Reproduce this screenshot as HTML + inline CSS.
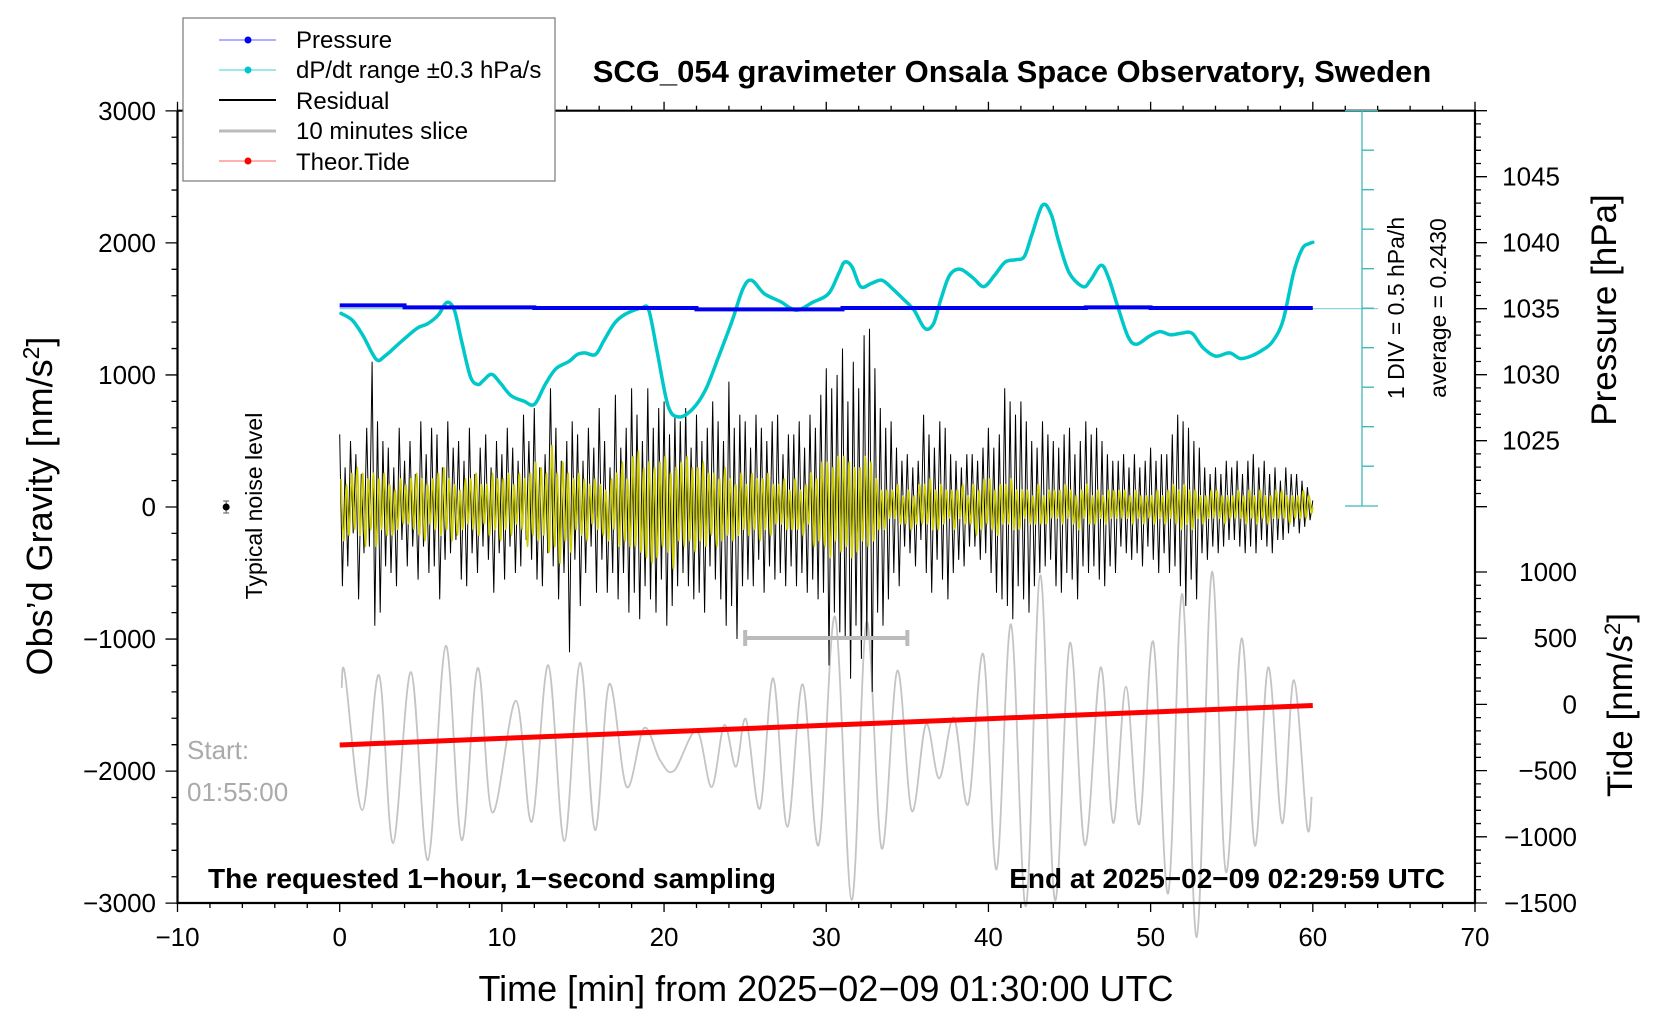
<!DOCTYPE html>
<html><head><meta charset="utf-8"><style>
html,body{margin:0;padding:0;background:#fff}
svg{display:block;font-family:"Liberation Sans",sans-serif}
</style></head><body>
<svg id="chart" width="1676" height="1020" viewBox="0 0 1676 1020" xmlns="http://www.w3.org/2000/svg">
<g id="marks"></g>
<g id="axes"></g>
</svg>
<script>
// ---------- data ----------
const xTicks = [-10,0,10,20,30,40,50,60,70];
const yTicks = [3000,2000,1000,0,-1000,-2000,-3000];
const pTicks = [1045,1040,1035,1030,1025];
const tideTicks = [1000,500,0,-500,-1000,-1500];
// pressure (hPa) step series
const pMin = [0,4,4,12,12,22,22,31,31,46,46,50,50,60];
const pVal = [1035.25,1035.25,1035.1,1035.1,1035.05,1035.05,1034.95,1034.95,1035.05,1035.05,1035.1,1035.1,1035.05,1035.05];
// dP/dt (hPa/h)
const dMin = [0.08,0.8,1.46,2.25,2.78,3.77,4.76,5.42,6.08,6.61,7.07,7.53,8.06,8.52,8.85,9.37,9.9,10.56,11.35,12.01,12.67,13.33,14.12,14.65,15.11,15.77,16.3,16.96,17.61,18.6,19.06,19.59,20.25,20.91,21.76,22.55,23.34,24.2,24.86,25.39,26.18,27.17,28.16,29.15,30.14,30.8,31.13,31.59,32.12,32.78,33.44,34.1,34.76,35.42,36.08,36.61,37.07,37.6,38.26,39.05,39.71,40.37,41.03,41.69,42.21,42.67,43.33,43.86,44.32,44.97,45.83,46.29,46.95,47.41,47.94,48.6,49.12,49.91,50.57,51.23,51.89,52.55,53.21,54.0,54.86,55.52,56.18,56.84,57.5,58.16,58.82,59.35,59.74,60.0];
const dVal = [-0.06,-0.15,-0.35,-0.64,-0.6,-0.42,-0.25,-0.19,-0.08,0.08,-0.02,-0.42,-0.86,-0.96,-0.91,-0.83,-0.94,-1.1,-1.17,-1.21,-0.96,-0.76,-0.67,-0.58,-0.56,-0.58,-0.4,-0.18,-0.07,0.01,-0.02,-0.56,-1.23,-1.37,-1.27,-1.03,-0.62,-0.15,0.25,0.36,0.19,0.09,-0.02,0.08,0.19,0.46,0.59,0.53,0.28,0.32,0.36,0.25,0.12,-0.02,-0.25,-0.19,0.12,0.42,0.5,0.39,0.28,0.42,0.59,0.62,0.66,0.93,1.31,1.2,0.86,0.46,0.28,0.36,0.55,0.39,0.05,-0.35,-0.45,-0.35,-0.29,-0.33,-0.31,-0.31,-0.49,-0.6,-0.56,-0.63,-0.6,-0.53,-0.42,-0.15,0.46,0.76,0.82,0.84];
// theoretical tide (nm/s^2)
const tMin = [0,5,10,15,20,25,30,35,40,45,50,55,60];
const tVal = [-307,-282,-257,-232,-208,-183,-158,-133,-108,-83,-58,-33,-8];
// 10-minute slice extrema (nm/s^2 on gravity axis)
const gMin = [0.12,0.33,1.39,2.42,3.29,4.4,5.44,6.54,7.52,8.51,9.41,10.87,11.84,12.86,13.85,14.82,15.74,16.62,17.69,18.76,19.75,20.61,22.01,22.93,23.71,24.43,25.05,25.91,26.73,27.6,28.55,29.53,30.54,31.57,32.49,33.42,34.38,35.27,36.15,36.97,37.87,38.75,39.68,40.5,41.39,42.31,43.2,44.1,45.02,45.95,46.92,47.69,48.48,49.3,50.16,51.08,51.95,52.84,53.78,54.64,55.61,56.43,57.25,58.11,58.83,59.65,59.93];
const gVal = [-1370,-1267,-2295,-1273,-2545,-1250,-2674,-1051,-2523,-1220,-2313,-1467,-2384,-1197,-2530,-1180,-2447,-1341,-2119,-1674,-1917,-1998,-1695,-2121,-1652,-1967,-1608,-2283,-1298,-2422,-1343,-2561,-831,-2977,-869,-2586,-1240,-2301,-1644,-2055,-1593,-2250,-1114,-2745,-889,-3023,-515,-2977,-1030,-2561,-1214,-2392,-1361,-2402,-1020,-2927,-659,-3258,-492,-2763,-995,-2566,-1214,-2396,-1311,-2422,-2195];
// residual, 10-second samples (nm/s^2)
const resid = [550,-600,300,-450,500,-200,400,-700,250,-350,600,-300,1100,-900,650,-800,500,-450,450,-500,300,-600,600,-250,350,-450,500,-300,250,-550,650,-300,400,-500,600,-450,550,-700,300,-400,650,-350,450,-250,500,-550,350,-600,600,-350,250,-500,450,-300,550,-400,300,-650,500,-350,400,-550,600,-300,450,-500,350,-450,700,-250,500,-400,750,-550,300,-600,400,-350,900,-450,600,-700,350,-500,500,-1100,650,-400,550,-750,350,-500,600,-300,450,-650,750,-400,500,-650,300,-500,850,-700,450,-500,600,-800,900,-650,700,-850,500,-600,900,-700,600,-800,750,-550,800,-900,550,-750,700,-600,650,-500,750,-600,450,-700,700,-650,500,-800,600,-450,800,-550,650,-700,500,-900,950,-750,600,-1000,700,-600,650,-550,450,-600,700,-400,600,-650,500,-450,650,-550,700,-500,400,-600,550,-450,550,-600,650,-500,450,-650,700,-550,600,-700,850,-650,1050,-1200,900,-800,1000,-950,1200,-1000,800,-1300,1100,-900,900,-1150,1300,-1000,1350,-1400,1050,-800,750,-900,600,-700,650,-500,450,-600,350,-300,400,-350,300,-450,350,-250,700,-500,550,-650,450,-400,650,-550,600,-700,400,-500,350,-400,300,-450,400,-300,400,-300,350,-400,450,-350,600,-500,450,-650,550,-700,900,-750,800,-850,700,-600,800,-700,650,-800,500,-600,450,-500,650,-450,550,-400,500,-600,450,-650,550,-500,600,-550,400,-700,500,-450,650,-500,550,-450,600,-550,500,-600,400,-450,350,-500,350,-300,400,-350,300,-400,400,-350,300,-450,350,-300,450,-400,350,-500,400,-350,400,-500,550,-450,700,-600,650,-750,600,-550,500,-700,450,-350,300,-400,250,-300,300,-350,250,-300,350,-250,300,-250,350,-300,250,-350,350,-300,400,-350,300,-250,350,-300,250,-350,300,-250,200,-250,300,-200,250,-150,250,-200,200,-150,150,-100,50];
// band-passed residual, 10-second samples (nm/s^2)
const filt = [250,-300,200,-250,300,-200,350,-250,300,-350,250,-200,300,-350,250,-200,300,-250,200,-250,150,-200,250,-150,200,-150,250,-200,300,-250,250,-300,200,-150,250,-200,300,-250,350,-200,250,-300,200,-250,150,-200,250,-150,250,-200,300,-250,200,-150,200,-250,300,-200,250,-300,250,-200,300,-250,200,-150,300,-200,250,-350,300,-250,400,-300,350,-250,300,-400,550,-350,300,-500,400,-300,300,-400,250,-200,300,-250,250,-300,200,-150,250,-200,200,-250,150,-300,250,-200,300,-350,400,-300,250,-350,450,-350,500,-400,350,-450,400,-500,350,-450,400,-350,450,-400,300,-550,350,-300,400,-350,450,-300,350,-400,350,-300,400,-350,300,-250,300,-350,250,-300,350,-250,250,-300,200,-250,300,-200,200,-250,300,-200,250,-300,250,-200,300,-250,200,-150,200,-150,250,-200,150,-200,250,-200,150,-250,200,-150,300,-350,250,-300,400,-350,400,-450,350,-300,450,-400,450,-350,400,-450,350,-400,350,-300,450,-350,400,-300,250,-200,150,-200,150,-100,150,-100,200,-150,100,-150,150,-200,100,-150,200,-150,200,-150,250,-200,150,-200,200,-150,150,-100,150,-200,150,-100,200,-150,100,-150,200,-250,150,-200,250,-150,250,-200,150,-250,200,-150,200,-150,250,-200,150,-200,150,-100,150,-150,100,-150,200,-150,100,-150,150,-100,150,-100,150,-150,200,-100,150,-150,100,-200,150,-100,200,-150,100,-150,150,-100,100,-150,150,-100,150,-100,150,-100,150,-100,100,-150,150,-100,100,-150,100,-100,100,-150,150,-100,100,-150,150,-100,200,-150,150,-200,200,-150,150,-200,150,-100,100,-150,100,-100,150,-100,150,-100,100,-150,100,-100,100,-100,150,-100,100,-150,150,-100,100,-150,150,-100,100,-150,100,-100,150,-100,150,-100,100,-150,100,-100,100,-100,150,-100,100,-50,0];

// ---------- scales ----------
const X0 = 177.5, X1 = 1475, YT = 110.7, YB = 903;
const xs = m => X0 + (m + 10) / 80 * (X1 - X0);
const yg = v => 507 - v * 0.13205;          // gravity axis
const yp = h => 308.7 - (h - 1035) * 13.2;   // pressure axis
const yt = v => 704.4 - v * 0.13240;         // tide axis
const yd = v => 308.7 - v * 79;              // dP/dt axis (1 div = 0.5 hPa/h)

const NS = 'http://www.w3.org/2000/svg';
const marks = document.getElementById('marks');
const axes = document.getElementById('axes');
function el(tag, attrs, parent) {
  const e = document.createElementNS(NS, tag);
  for (const k in attrs) e.setAttribute(k, attrs[k]);
  (parent || marks).appendChild(e);
  return e;
}
function smoothPath(px, py) {
  let d = 'M' + px[0].toFixed(1) + ',' + py[0].toFixed(1);
  for (let i = 0; i < px.length - 1; i++) {
    const p0x = px[Math.max(0, i - 1)], p0y = py[Math.max(0, i - 1)];
    const p3x = px[Math.min(px.length - 1, i + 2)], p3y = py[Math.min(px.length - 1, i + 2)];
    const c1x = px[i] + (px[i + 1] - p0x) / 6, c1y = py[i] + (py[i + 1] - p0y) / 6;
    const c2x = px[i + 1] - (p3x - px[i]) / 6, c2y = py[i + 1] - (p3y - py[i]) / 6;
    d += 'C' + c1x.toFixed(1) + ',' + c1y.toFixed(1) + ' ' + c2x.toFixed(1) + ',' + c2y.toFixed(1) + ' ' + px[i + 1].toFixed(1) + ',' + py[i + 1].toFixed(1);
  }
  return d;
}

// cyan zero line
let ln = el('line', {x1: xs(0), y1: yd(0), x2: 1378, y2: yd(0), stroke: '#7fd0d0', 'stroke-width': 1.2});



// gray 10-minute slice
let gp = el('path', {d: smoothPath(gMin.map(xs), gVal.map(yg)), fill: 'none', stroke: '#c4c4c4', 'stroke-width': 1.8});



// residual black
let rd = '';
resid.forEach((v, i) => { rd += (i ? 'L' : 'M') + xs(i / 6).toFixed(1) + ',' + yg(v).toFixed(1); });
let rp = el('path', {d: rd, fill: 'none', stroke: '#000', 'stroke-width': 1});



// filtered yellow
let fpx = filt.map((v, i) => xs((i + 0.5) / 6 > 60 ? 60 : (i + 0.5) / 6));
let fp = el('path', {d: smoothPath(fpx, filt.map(v => yg(v * 0.85))), fill: 'none', stroke: '#cccc00', 'stroke-width': 1.6});



// dP/dt cyan
let cp = el('path', {d: smoothPath(dMin.map(xs), dVal.map(yd)), fill: 'none', stroke: '#00c8c8', 'stroke-width': 3.5, 'stroke-linecap': 'round'});



// pressure blue (step)
let pd = '';
pMin.forEach((m, i) => { pd += (i ? 'L' : 'M') + xs(m).toFixed(1) + ',' + yp(pVal[i]).toFixed(1); });
let pp = el('path', {d: pd, fill: 'none', stroke: '#0000ee', 'stroke-width': 4});



// tide red
let td = '';
tMin.forEach((m, i) => { td += (i ? 'L' : 'M') + xs(m).toFixed(1) + ',' + yt(tVal[i]).toFixed(1); });
let tp = el('path', {d: td, fill: 'none', stroke: '#ff0000', 'stroke-width': 5});



// slice bracket 25-35 min
let sb = el('path', {d: `M${xs(25)},630V646M${xs(25)},638H${xs(35)}M${xs(35)},630V646`, stroke: '#bbbbbb', 'stroke-width': 4, fill: 'none'});



// noise level marker
let nm = el('path', {d: `M${xs(-7)},501V513M${xs(-7)-3},501H${xs(-7)+3}M${xs(-7)-3},513H${xs(-7)+3}`, stroke: '#555', 'stroke-width': 1});


let nd = el('circle', {cx: xs(-7), cy: 507, r: 3.5, fill: '#000'});



// ---------- axes ----------
let frame = el('path', {d: `M${X0},${YT}V${YB}H${X1}V${YT}H${X0}`, fill: 'none', stroke: '#000', 'stroke-width': 2.2}, axes);


let tk = '';
for (let m = -10; m <= 70; m += 2) {
  const big = m % 10 === 0; const L = big ? 9 : 5;
  tk += `M${xs(m)},${YB}v${L}M${xs(m)},${YT}v${-L}`;
}
for (let v = -3000; v <= 3000; v += 200) {
  const big = v % 1000 === 0;
  tk += `M${X0},${yg(v)}h${big ? -12 : -6}`;
}
for (let h = 1020; h <= 1050; h++) {
  const big = h % 5 === 0;
  tk += `M${X1},${yp(h)}h${big ? 12 : 6}`;
}
for (let v = -1500; v <= 1000; v += 100) {
  const big = v % 500 === 0;
  if (yt(v) < 540) continue;
  tk += `M${X1},${yt(v)}h${big ? 12 : 6}`;
}
let tks = el('path', {d: tk, stroke: '#000', 'stroke-width': 1.3, fill: 'none'}, axes);



// dP/dt scale bar
let ds = `M1362,${YT}V506M1345,${YT}H1378M1345,506H1378`;
for (let k = 1; k < 10; k++) ds += `M1362,${YT + k * 39.5}h12`;
let dsp = el('path', {d: ds, stroke: '#40b8b8', 'stroke-width': 1.3, fill: 'none'}, axes);



function txt(s, x, y, attrs, name) {
  const t = el('text', Object.assign({x: x, y: y}, attrs), axes);
  t.textContent = s;
  
  
  return t;
}
xTicks.forEach(m => txt(String(m).replace('-', '\u2212'), xs(m), 946, {'font-size': 26, 'text-anchor': 'middle'}, 'x-tick-label'));
yTicks.forEach(v => txt(String(v).replace('-', '\u2212'), 156, yg(v) + 9, {'font-size': 26, 'text-anchor': 'end'}, 'y-tick-label'));
pTicks.forEach(h => txt(String(h), 1560, yp(h) + 9, {'font-size': 26, 'text-anchor': 'end'}, 'pressure-tick-label'));
tideTicks.forEach(v => txt(String(v).replace('-', '\u2212'), 1577, yt(v) + 9, {'font-size': 26, 'text-anchor': 'end'}, 'tide-tick-label'));
</script>
<svg style="position:absolute;left:0;top:0" width="1676" height="1020" xmlns="http://www.w3.org/2000/svg" font-family="Liberation Sans, sans-serif">
  <text x="1012" y="82" font-size="31" font-weight="bold" text-anchor="middle">SCG_054 gravimeter Onsala Space Observatory, Sweden</text>
  <text x="826" y="1001" font-size="36" text-anchor="middle">Time [min] from 2025−02−09 01:30:00 UTC</text>
  <text transform="translate(52,506) rotate(-90)" font-size="36" text-anchor="middle">Obs’d Gravity [nm/s<tspan font-size="23" dy="-13">2</tspan><tspan dy="13">]</tspan></text>
  <text transform="translate(1616,310) rotate(-90)" font-size="35" text-anchor="middle">Pressure [hPa]</text>
  <text transform="translate(1632,705) rotate(-90)" font-size="35" text-anchor="middle">Tide [nm/s<tspan font-size="22" dy="-12">2</tspan><tspan dy="12">]</tspan></text>
  <text transform="translate(1404,308) rotate(-90)" font-size="23" text-anchor="middle">1 DIV = 0.5 hPa/h</text>
  <text transform="translate(1446,308) rotate(-90)" font-size="23" text-anchor="middle">average = 0.2430</text>
  <text transform="translate(262,506) rotate(-90)" font-size="23" text-anchor="middle">Typical noise level</text>
  <text x="187" y="759" font-size="26" fill="#aaaaaa">Start:</text>
  <text x="187" y="801" font-size="26" fill="#aaaaaa">01:55:00</text>
  <text x="208" y="888" font-size="28" font-weight="bold">The requested 1−hour, 1−second sampling</text>
  <text x="1445" y="888" font-size="28" font-weight="bold" text-anchor="end">End at 2025−02−09 02:29:59 UTC</text>
  <g>
    <rect x="183" y="18" width="372" height="163" fill="#fff" stroke="#777" stroke-width="1.2"/>
    <g>
      <line x1="219" y1="40" x2="276" y2="40" stroke="#6060ff" stroke-width="1"/><circle cx="248" cy="40" r="3.5" fill="#0000ee"/>
      <text x="296" y="48" font-size="24">Pressure</text></g>
    <g>
      <line x1="219" y1="70" x2="276" y2="70" stroke="#40d0d0" stroke-width="1"/><circle cx="248" cy="70" r="3.5" fill="#00c8c8"/>
      <text x="296" y="78" font-size="24">dP/dt range ±0.3 hPa/s</text></g>
    <g>
      <line x1="219" y1="100" x2="276" y2="100" stroke="#000" stroke-width="2"/>
      <text x="296" y="109" font-size="24">Residual</text></g>
    <g>
      <line x1="219" y1="131" x2="276" y2="131" stroke="#bbb" stroke-width="3"/>
      <text x="296" y="139" font-size="24">10 minutes slice</text></g>
    <g>
      <line x1="219" y1="161" x2="276" y2="161" stroke="#ff6060" stroke-width="1"/><circle cx="248" cy="161" r="3.5" fill="#ff0000"/>
      <text x="296" y="170" font-size="24">Theor.Tide</text></g>
  </g>
</svg>
</body></html>
